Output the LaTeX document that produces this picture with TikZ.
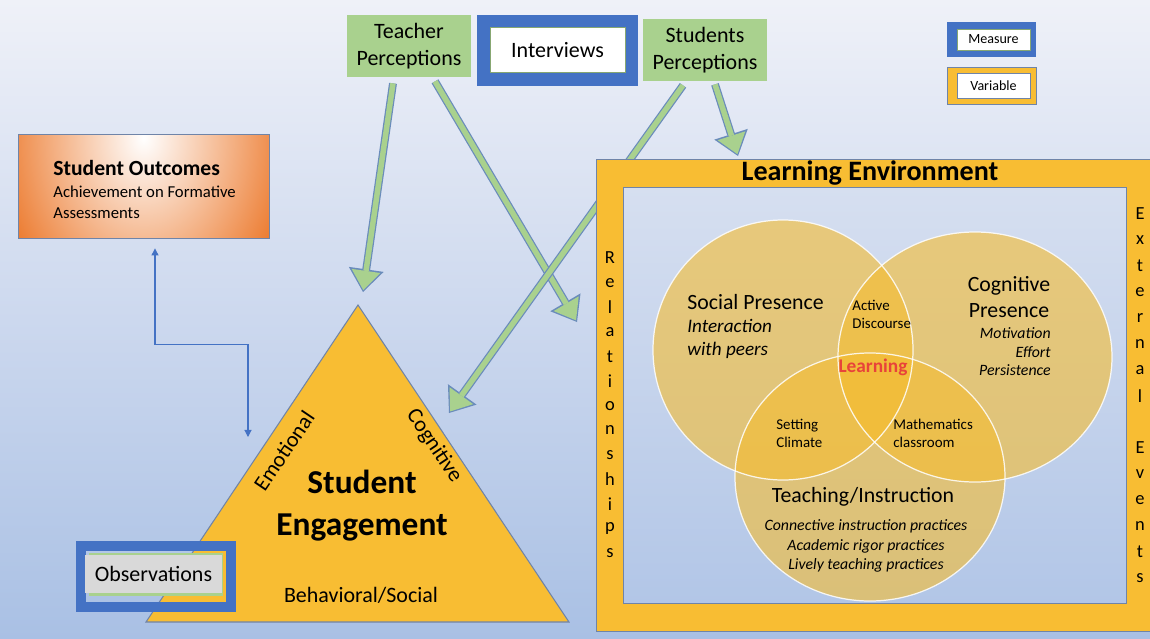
\documentclass[tikz,border=0pt]{standalone}
\usepackage{fontspec}
\setmainfont{Carlito}
\usetikzlibrary{arrows.meta,calc}

\definecolor{bgTop}{HTML}{EFF1F8}
\definecolor{bgMid}{HTML}{CCD8EE}
\definecolor{bgBottom}{HTML}{A9C0E4}
\definecolor{measureBlue}{HTML}{4472C4}
\definecolor{varYellow}{HTML}{F8BD33}
\definecolor{percGreen}{HTML}{A9D18E}
\definecolor{arrowEdge}{HTML}{6A8CBB}
\definecolor{edgeGray}{HTML}{6F84A8}
\definecolor{outOrange}{HTML}{EC7A2E}
\definecolor{vennGold}{HTML}{F5BC2F}
\definecolor{learnRed}{HTML}{E8433A}
\definecolor{innerTop}{HTML}{D6DFF0}
\definecolor{innerBottom}{HTML}{B2C6E7}
\definecolor{obsGray}{HTML}{D9D9D9}

\tikzset{
	percbox/.style={fill=percGreen, minimum width=2.48cm, minimum height=1.24cm,
		align=center, inner sep=0pt, font=\fontsize{12.5}{15.3}\selectfont},
	percarrow/.style={draw=arrowEdge, line width=4.5pt,
		-{Triangle[length=13pt,width=20pt,line width=0pt]},
		postaction={draw=percGreen, line width=3.1pt, shorten >=1.1pt,
			-{Triangle[length=11pt,width=16.5pt,line width=0pt]}}},
	linkarrow/.style={draw=measureBlue, line width=0.6pt,
		{Triangle[length=4pt,width=4pt]}-{Triangle[length=4pt,width=4pt]}},
	measureframe/.style={fill=measureBlue, inner sep=0pt},
	measurein/.style={fill=white, draw=percGreen!80!black, line width=0.4pt, inner sep=0pt},
	sideletter/.style={font=\fontsize{10.5}{12}\selectfont, inner sep=0pt},
	vennfill/.style={fill=vennGold, fill opacity=0.6},
	vennedge/.style={draw=white, draw opacity=0.85, line width=0.7pt},
	vennsmall/.style={font=\fontsize{8.5}{10.2}\selectfont, align=left, inner sep=0pt},
}

\begin{document}
\begin{tikzpicture}[x=0.02cm, y=-0.02cm]
\useasboundingbox (0,0) rectangle (1150,639);
\clip (0,0) rectangle (1150,639);
% background
\shade[top color=bgTop, bottom color=bgBottom, middle color=bgMid] (0,0) rectangle (1150,639);

% student outcomes
\node[draw=edgeGray, line width=0.5pt, minimum width=5.02cm, minimum height=2.08cm, inner sep=0pt,
	path picture={\shade[inner color=white, outer color=outOrange]
		($(path picture bounding box.north)+(0,4)$) ellipse (3.0cm and 3.9cm);}] (outcomes) at (143.5,186) {};
\node[anchor=west, inner sep=0pt, font=\fontsize{12.3}{14}\selectfont\bfseries] (outcomesTitle) at (53,168) {Student Outcomes};
\node[anchor=west, inner sep=0pt, align=left, font=\fontsize{9.5}{12}\selectfont] (outcomesSub) at (53,202.5) {Achievement on Formative\\Assessments};

\coordinate (emoTip) at (248,437);
\draw[linkarrow] ($(outcomes.south)+(11.5,10)$) -- ++(0,96) -| (emoTip);

% engagement triangle
\coordinate (apex) at (358,305);
\coordinate (baseL) at (146,622);
\coordinate (baseR) at (569,622);
\draw[fill=varYellow, draw=edgeGray, line width=0.6pt] (apex) -- (baseR) -- (baseL) -- cycle;
\node[font=\fontsize{19}{23.8}\selectfont\bfseries, align=center, inner sep=0pt] (engagement) at (362,506) {Student\\Engagement};
\node[font=\fontsize{12.5}{15}\selectfont, rotate=56, inner sep=0pt] (emotional) at (284,451) {Emotional};
\node[font=\fontsize{12.5}{15}\selectfont, rotate=-56, inner sep=0pt] (cognitiveSide) at (434,446) {Cognitive};
\node[font=\fontsize{12.5}{15}\selectfont, inner sep=0pt] (behavioral) at (361,595) {Behavioral/Social};

% measures and perceptions
\node[percbox] (teacherPerc) at (409,46) {Teacher\\Perceptions};
\node[measureframe, minimum width=3.22cm, minimum height=1.42cm] (interviews) at (557.5,50.5) {};
\node[measurein, minimum width=2.7cm, minimum height=0.9cm, font=\fontsize{12.5}{15}\selectfont] (interviewsIn) at (557.5,50) {Interviews};
\node[percbox] (studentPerc) at (705,50) {Students\\Perceptions};

\coordinate (apexTip) at (363,292);
\coordinate (envLeftTip) at (577,322);
\coordinate (cogTip) at (449,413);
\coordinate (envTopTip) at (738,156);
\draw[percarrow] ($(teacherPerc.south)+(-16,6)$) -- (apexTip);
\draw[percarrow] ($(teacherPerc.south)+(26,4)$) -- (envLeftTip);
\draw[percarrow] ($(studentPerc.south)+(-22,4)$) -- (cogTip);
\draw[percarrow] ($(studentPerc.south)+(10,3)$) -- (envTopTip);

% learning environment
\node[fill=varYellow, draw=edgeGray, line width=0.6pt, minimum width=11.38cm, minimum height=9.46cm, inner sep=0pt] (env) at (880.5,395.5) {};
\node[top color=innerTop, bottom color=innerBottom, draw=edgeGray, line width=0.6pt, minimum width=10.08cm, minimum height=8.34cm, inner sep=0pt] (envInner) at (875,395.5) {};
\node[font=\fontsize{16}{18}\selectfont\bfseries, inner sep=0pt] (envTitle) at (870,173) {Learning Environment};
\foreach \ch [count=\i from 0] in {R,e,l,a,t,i,o,n,s,h,i,p,s}
	\node[sideletter] (rel\i) at (610,{258+24.6*\i}) {\ch};
\foreach \ch [count=\i from 0] in {E,x,t,e,r,n,a,l}
	\node[sideletter] (ext\i) at (1140,{214+26*\i}) {\ch};
\foreach \ch [count=\i from 0] in {E,v,e,n,t,s}
	\node[sideletter] (evt\i) at (1140,{448+26*\i}) {\ch};

% venn
\foreach \cx/\cy/\rx/\ry in {783/350/130/130, 975/357/137/125, 870/477/135/124}
	\fill[vennfill] (\cx,\cy) ellipse[x radius=\rx, y radius=\ry];
\foreach \cx/\cy/\rx/\ry in {783/350/130/130, 975/357/137/125, 870/477/135/124}
	\draw[vennedge] (\cx,\cy) ellipse[x radius=\rx, y radius=\ry];

\node[anchor=west, inner sep=0pt, font=\fontsize{12.4}{15}\selectfont] (socialTitle) at (687,302) {Social Presence};
\node[anchor=west, inner sep=0pt, align=left, font=\fontsize{10.9}{13}\selectfont\itshape] (socialSub) at (687,339) {Interaction\\with peers};
\node[vennsmall, anchor=west] (discourse) at (852,314) {Active\\Discourse};
\node[align=center, inner sep=0pt, font=\fontsize{12.4}{15.3}\selectfont] (cogTitle) at (1009,297) {Cognitive\\Presence};
\node[anchor=east, align=right, inner sep=0pt, font=\fontsize{9}{10.5}\selectfont\itshape] (cogSub) at (1051,352) {Motivation\\Effort\\Persistence};
\node[inner sep=0pt, text=learnRed, font=\fontsize{11}{13}\selectfont\bfseries] (learning) at (873,367) {Learning};
\node[vennsmall, anchor=west] (climate) at (776,433) {Setting\\Climate};
\node[vennsmall, anchor=west] (mathRoom) at (893,433) {Mathematics\\classroom};
\node[inner sep=0pt, font=\fontsize{12.4}{15}\selectfont] (teachTitle) at (863,497) {Teaching/Instruction};
\node[align=center, inner sep=0pt, font=\fontsize{9}{11.3}\selectfont\itshape] (teachSub) at (866,546) {Connective instruction practices\\Academic rigor practices\\Lively teaching practices};

% legend
\node[measureframe, minimum width=1.78cm, minimum height=0.7cm] (measureKey) at (991.5,39.5) {};
\node[measurein, minimum width=1.46cm, minimum height=0.42cm, font=\fontsize{8}{9}\selectfont] (measureKeyIn) at (993.5,39.5) {Measure};
\node[fill=varYellow, draw=edgeGray, line width=0.5pt, minimum width=1.78cm, minimum height=0.74cm, inner sep=0pt] (variableKey) at (991.5,85.5) {};
\node[fill=white, draw=edgeGray, line width=0.5pt, minimum width=1.46cm, minimum height=0.5cm, inner sep=0pt, font=\fontsize{8}{9}\selectfont] (variableKeyIn) at (993.5,85.5) {Variable};

% observations
\node[draw=measureBlue, line width=5.5pt, minimum width=3.0cm, minimum height=1.22cm, inner sep=0pt] (observations) at (156,576.5) {};
\node[fill=percGreen, minimum width=2.70cm, minimum height=0.86cm, inner sep=0pt] (obsGlow) at (156,574.5) {};
\node[fill=obsGray, minimum width=2.74cm, minimum height=0.76cm, inner sep=0pt, font=\fontsize{12.5}{15}\selectfont] (obsLabel) at (153.5,574) {Observations};
\end{tikzpicture}
\end{document}
